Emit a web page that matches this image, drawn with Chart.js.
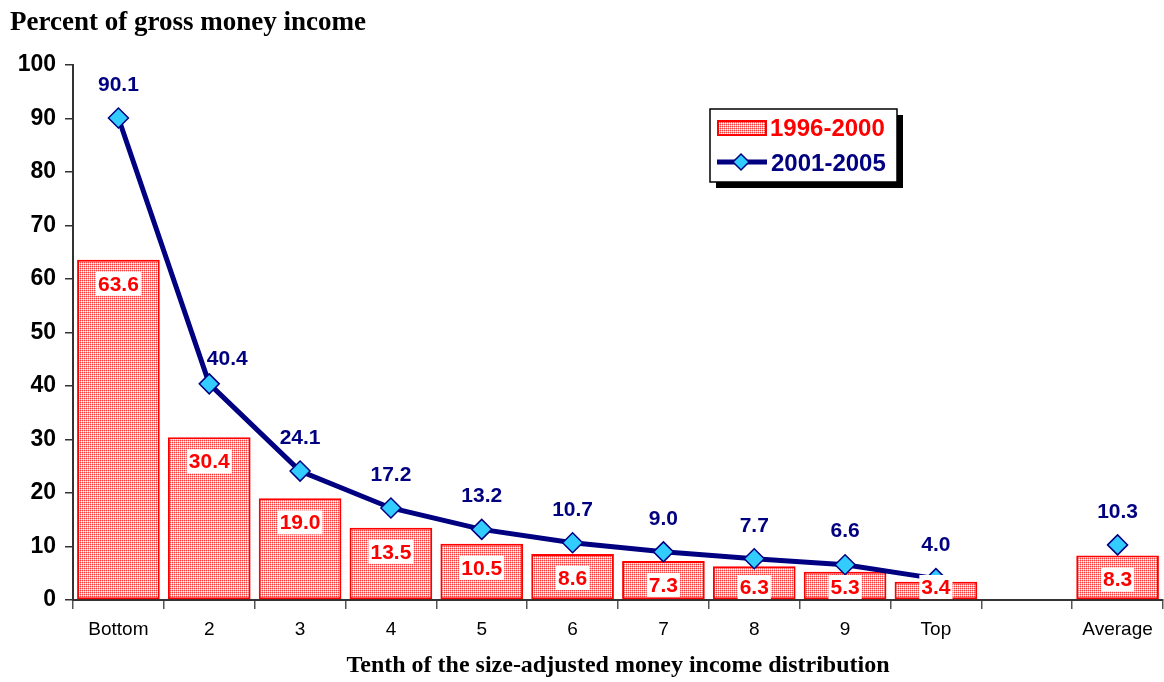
<!DOCTYPE html>
<html lang="en">
<head>
<meta charset="UTF-8">
<title>Percent of gross money income</title>
<script src="https://cdn.jsdelivr.net/npm/chart.js"></script>
<style>
  html, body { margin: 0; padding: 0; background: #fff; }
  #wrap { width: 1164px; height: 682px; }
</style>
</head>
<body>
<div id="wrap"><canvas id="chart"></canvas></div>
<script>
// data
const categories = ['Bottom', '2', '3', '4', '5', '6', '7', '8', '9', 'Top', '', 'Average'];
const share1996 = [63.6, 30.4, 19.0, 13.5, 10.5, 8.6, 7.3, 6.3, 5.3, 3.4, null, 8.3];
const share2001 = [90.1, 40.4, 24.1, 17.2, 13.2, 10.7, 9.0, 7.7, 6.6, 4.0, null, 10.3];
const yTicks = [0, 10, 20, 30, 40, 50, 60, 70, 80, 90, 100];

const ARIAL = '"Liberation Sans", Arial, sans-serif';
const TIMES = '"Liberation Serif", "Times New Roman", serif';
const RED = '#ff0000';
const NAVY = '#000080';
const CYAN = '#33ccff';

const ctx = document.getElementById('chart').getContext('2d');

// dotted pink fill like the old Excel pattern
function makePattern() {
  const c = document.createElement('canvas');
  c.width = 2; c.height = 2;
  const g = c.getContext('2d');
  g.fillStyle = '#ffffff'; g.fillRect(0, 0, 2, 2);
  g.fillStyle = '#ff3a3a'; g.fillRect(0, 0, 1, 1);
  g.fillStyle = '#ffa8a8'; g.fillRect(1, 0, 1, 1); g.fillRect(0, 1, 1, 1);
  return ctx.createPattern(c, 'repeat');
}
const dots = makePattern();

// value labels on bars and points
const labelPlugin = {
  id: 'labels',
  afterDatasetsDraw(chart) {
    const c = chart.ctx;
    const bottom = chart.chartArea.bottom;
    c.save();
    c.textAlign = 'center';
    c.textBaseline = 'middle';

    // line labels
    c.font = 'bold 21px ' + ARIAL;
    c.fillStyle = NAVY;
    chart.getDatasetMeta(0).data.forEach((p, i) => {
      const v = share2001[i];
      if (v == null) return;
      const dx = i === 1 ? 18 : 0;
      const dy = i === 1 ? 25 : 33;
      c.fillText(v.toFixed(1), p.x + dx, p.y - dy);
    });

    // bar labels with white box
    c.font = 'bold 21px ' + ARIAL;
    chart.getDatasetMeta(1).data.forEach((b, i) => {
      const v = share1996[i];
      if (v == null) return;
      const t = v.toFixed(1);
      const w = c.measureText(t).width + 4;
      const y = Math.min(b.y + 24, bottom - 13);
      c.fillStyle = '#fff';
      c.fillRect(b.x - w / 2, y - 12, w, 24);
      c.fillStyle = RED;
      c.fillText(t, b.x, y + 1);
    });
    c.restore();
  }
};

// legend box with shadow, inside the plot
const legendPlugin = {
  id: 'boxLegend',
  afterDraw(chart) {
    const c = chart.ctx;
    const x = 710, y = 109, w = 187, h = 73;
    c.save();
    c.fillStyle = '#000';
    c.fillRect(x + 6, y + 6, w, h);
    c.fillStyle = '#fff';
    c.fillRect(x, y, w, h);
    c.strokeStyle = '#000';
    c.lineWidth = 1.5;
    c.strokeRect(x, y, w, h);

    c.fillStyle = dots;
    c.fillRect(718, 121, 48, 14);
    c.strokeStyle = RED;
    c.lineWidth = 2;
    c.strokeRect(718, 121, 48, 14);

    c.strokeStyle = NAVY;
    c.lineWidth = 5;
    c.beginPath();
    c.moveTo(717, 162);
    c.lineTo(767, 162);
    c.stroke();
    c.beginPath();
    c.moveTo(741, 154); c.lineTo(749, 162); c.lineTo(741, 170); c.lineTo(733, 162);
    c.closePath();
    c.fillStyle = CYAN;
    c.fill();
    c.lineWidth = 1.5;
    c.stroke();

    c.font = 'bold 24px ' + ARIAL;
    c.textBaseline = 'middle';
    c.textAlign = 'left';
    c.fillStyle = RED;
    c.fillText('1996-2000', 770, 129);
    c.fillStyle = NAVY;
    c.fillText('2001-2005', 771, 164);
    c.restore();
  }
};

new Chart(ctx, {
  data: {
    labels: categories,
    datasets: [
      {
        type: 'line',
        label: '2001-2005',
        data: share2001,
        order: 0,
        borderColor: NAVY,
        borderWidth: 5,
        tension: 0,
        spanGaps: false,
        pointStyle: 'rectRot',
        pointRadius: 10,
        pointBackgroundColor: CYAN,
        pointBorderColor: NAVY,
        pointBorderWidth: 1.5
      },
      {
        type: 'bar',
        label: '1996-2000',
        data: share1996,
        order: 1,
        backgroundColor: dots,
        borderColor: RED,
        borderWidth: 2,
        borderSkipped: false,
        categoryPercentage: 1.0,
        barPercentage: 0.91
      }
    ]
  },
  options: {
    responsive: true,
    maintainAspectRatio: false,
    animation: false,
    layout: { autoPadding: false, padding: { left: 10, right: 1, top: 0, bottom: 0 } },
    plugins: {
      legend: { display: false },
      tooltip: { enabled: false },
      title: {
        display: true,
        text: 'Percent of gross money income',
        align: 'start',
        color: '#000',
        font: { family: TIMES, size: 27, weight: 'bold' },
        padding: { top: 7, bottom: 25.6 }
      }
    },
    scales: {
      x: {
        grid: { display: true, drawOnChartArea: false, drawTicks: true, tickLength: 9, color: '#555', lineWidth: 1.5 },
        border: { display: true, color: '#333', width: 2 },
        ticks: { color: '#000', padding: 9, font: { family: ARIAL, size: 19 }, maxRotation: 0, autoSkip: false },
        title: {
          display: true,
          text: 'Tenth of the size-adjusted money income distribution',
          color: '#000',
          font: { family: TIMES, size: 24, weight: 'bold' },
          padding: { top: 2, bottom: 2 }
        },
        afterFit(s) { s.height = 82; }
      },
      y: {
        min: 0,
        max: 100,
        afterBuildTicks(s) { s.ticks = yTicks.map(v => ({ value: v })); },
        grid: { display: true, drawOnChartArea: false, drawTicks: true, tickLength: 8, color: '#333', lineWidth: 1.5 },
        border: { display: true, color: '#333', width: 2 },
        ticks: { color: '#000', padding: 9, font: { family: ARIAL, size: 23, weight: 'bold' } },
        afterFit(s) { s.width = 63; }
      }
    }
  },
  plugins: [labelPlugin, legendPlugin]
});
</script>
</body>
</html>
